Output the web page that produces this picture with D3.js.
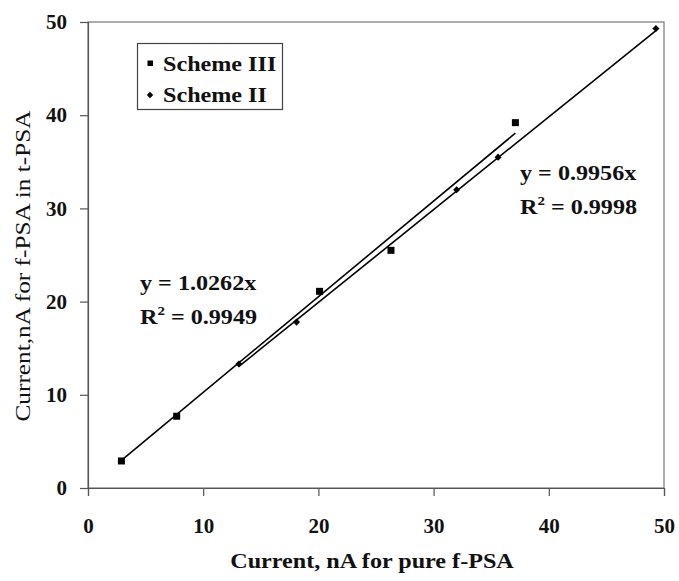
<!DOCTYPE html>
<html>
<head>
<meta charset="utf-8">
<script src="https://cdn.jsdelivr.net/npm/d3@7"></script>
<style>
  body { margin: 0; background: #fff; }
  svg text { font-family: "Liberation Serif", "Times New Roman", serif; fill: #111; }
</style>
</head>
<body>
<div id="chart"></div>
<script>
// Scheme III (carrés)
const scheme3X = [2.9, 7.7, 20.1, 26.3, 37.1]
const scheme3Y = [2.9, 7.7, 21.1, 25.5, 39.2]
// Scheme II (losanges)
const scheme2X = [13.1, 18.1, 32.0, 35.6, 49.3]
const scheme2Y = [13.3, 17.8, 32.0, 35.5, 49.3]

// pentes des droites de régression (passant par 0)
const slope3 = 1.0262
const slope2 = 0.9956
const r2Scheme3 = "0.9949"
const r2Scheme2 = "0.9998"

const xTicks = [0, 10, 20, 30, 40, 50]
const yTicks = [0, 10, 20, 30, 40, 50]

const W = 679, H = 581
const margin = { top: 22, right: 15, bottom: 93, left: 88 },
    width = W - margin.left - margin.right,
    height = H - margin.top - margin.bottom

// le texte de la figure d'origine est étiré horizontalement
const stretch = 1.15

const svg = d3.select("#chart")
    .append("svg")
    .attr("width", W)
    .attr("height", H)

const g = svg.append("g")
    .attr("transform", "translate(" + margin.left + "," + margin.top + ")")

let x = d3.scaleLinear().domain([0, 50]).range([0, width])
let y = d3.scaleLinear().domain([0, 50]).range([height, 0])

// cadre
g.append("rect")
    .attr("width", width)
    .attr("height", height)
    .attr("fill", "none")
    .attr("stroke", "#777")
    .attr("stroke-width", 1.2)

// Axe X
g.append("g")
    .attr("transform", "translate(0," + height + ")")
    .call(d3.axisBottom(x).tickValues(xTicks).tickSize(8).tickPadding(22))
// Axe Y
g.append("g")
    .call(d3.axisLeft(y).tickValues(yTicks).tickSize(8).tickPadding(13))

g.selectAll(".domain, .tick line")
    .attr("stroke", "#555")
    .attr("stroke-width", 1.2)
g.selectAll(".tick text")
    .style("font-family", "Liberation Serif")
    .style("font-weight", "bold")
    .style("font-size", "21px")
    .attr("fill", "#111")

// texte étiré
function stext(parent, px, py, txt, size, bold, rot) {
    return parent.append("text")
        .attr("transform", "translate(" + px + "," + py + ")" + (rot ? " rotate(" + rot + ")" : "") + " scale(" + stretch + ",1)")
        .style("font-size", size + "px")
        .style("font-weight", bold ? "bold" : "normal")
        .text(txt)
}

// Titres des axes
stext(svg, 372, 568, "Current, nA for pure f-PSA", 21, true)
    .attr("text-anchor", "middle")
stext(svg, 30, 266, "Current,nA for f-PSA in t-PSA", 22, false, -90)
    .attr("text-anchor", "middle")

// Droites de régression
const line = d3.line().x(d => x(d[0])).y(d => y(d[1]))
const xr3 = d3.extent(scheme3X)
const xr2 = d3.extent(scheme2X)
g.append("path")
    .datum(xr3.map(v => [v, v * slope3]))
    .attr("d", line)
    .attr("fill", "none")
    .attr("stroke", "#000")
    .attr("stroke-width", 1.6)
g.append("path")
    .datum(xr2.map(v => [v, v * slope2]))
    .attr("d", line)
    .attr("fill", "none")
    .attr("stroke", "#000")
    .attr("stroke-width", 1.6)

// Points
g.append("g")
    .selectAll("rect")
    .data(d3.zip(scheme3X, scheme3Y))
    .enter()
    .append("rect")
    .attr("x", d => x(d[0]) - 3.5)
    .attr("y", d => y(d[1]) - 3.5)
    .attr("width", 7)
    .attr("height", 7)
    .attr("fill", "#000")

const diamond = d3.symbol().type(d3.symbolDiamond2).size(32)
g.append("g")
    .selectAll("path")
    .data(d3.zip(scheme2X, scheme2Y))
    .enter()
    .append("path")
    .attr("d", diamond)
    .attr("transform", d => "translate(" + x(d[0]) + "," + y(d[1]) + ")")
    .attr("fill", "#000")

// Légende
const leg = svg.append("g")
leg.append("rect")
    .attr("x", 137.5)
    .attr("y", 43.5)
    .attr("width", 145)
    .attr("height", 66)
    .attr("fill", "#fff")
    .attr("stroke", "#444")
    .attr("stroke-width", 1.2)
leg.append("rect")
    .attr("x", 147.5).attr("y", 60.5).attr("width", 5.5).attr("height", 5.5)
    .attr("fill", "#000")
leg.append("path")
    .attr("d", d3.symbol().type(d3.symbolDiamond2).size(26))
    .attr("transform", "translate(150,95)")
    .attr("fill", "#000")
stext(leg, 163, 71, "Scheme III", 21, true)
stext(leg, 163, 102, "Scheme II", 21, true)

// Equations
function equation(xp, yp, slope, r2) {
    stext(svg, xp, yp, "y = " + slope + "x", 21, true)
    const r = stext(svg, xp, yp + 34, "R", 21, true)
    r.append("tspan").attr("dy", -9).style("font-size", "13px").text("2")
    r.append("tspan").attr("dy", 9).text(" = " + r2)
}
equation(140, 290, slope3, r2Scheme3)
equation(520, 180, slope2, r2Scheme2)
</script>
</body>
</html>
